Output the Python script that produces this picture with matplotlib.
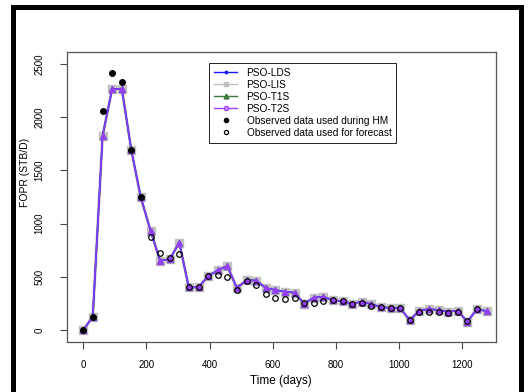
import matplotlib
matplotlib.use("Agg")
import matplotlib.pyplot as plt
from matplotlib.patches import Rectangle
from matplotlib.lines import Line2D

plt.rcParams['font.family'] = ['Liberation Sans', 'DejaVu Sans']

# time of each report step (days)
time_days = [0, 30, 61, 91, 122, 152, 182, 213, 243, 274, 304, 334, 365, 395,
             426, 456, 486, 517, 547, 578, 608, 638, 669, 699, 730, 760, 790,
             821, 851, 882, 912, 942, 973, 1003, 1034, 1064, 1094, 1125, 1155,
             1186, 1216, 1246, 1277]

# simulated FOPR of the best models (the four runs overlap almost exactly)
pso_lds = [0, 125, 1823, 2262, 2268, 1692, 1247, 933, 652, 667, 822, 401, 401,
           507, 560, 602, 396, 467, 465, 395, 376, 360, 350, 248, 304, 313,
           280, 270, 248, 266, 243, 216, 207, 204, 94, 181, 197, 188, 172, 181,
           78, 194, 178]
pso_lis = list(pso_lds)
pso_t1s = list(pso_lds)
pso_t2s = list(pso_lds)

# observed FOPR
obs_hm_time = time_days[:7]
obs_hm = [0, 125, 2061, 2415, 2331, 1692, 1247]
obs_fc_time = time_days[7:42]
obs_fc = [871, 721, 675, 714, 401, 401, 507, 514, 495, 373, 465, 423, 338, 300,
          288, 300, 251, 258, 270, 280, 270, 248, 251, 229, 216, 207, 204, 94,
          172, 172, 169, 157, 172, 87, 200]

W, H = 530, 392
fig = plt.figure(figsize=(W / 100, H / 100), dpi=100)
ax = fig.add_axes([66.7 / W, 1 - 341.7 / H, 429 / W, 289.4 / H])

ax.plot(time_days, pso_lis, color='#c8c8c8', lw=2.2, marker='s', ms=5.5,
        mec='#c0c0c0', zorder=2)
ax.plot(time_days, pso_t1s, color='#3d7a3d', lw=1.3, marker='^', ms=4.5,
        zorder=3)
ax.plot(time_days, pso_lds, color='#1a1aff', lw=1.1, marker='.', ms=3,
        zorder=4)
ax.plot(time_days, pso_t2s, color='#a040ff', lw=1.1, marker='^', ms=3.8,
        alpha=0.85, zorder=5)
ax.plot(obs_hm_time, obs_hm, 'o', color='black', ms=4, zorder=6)
ax.plot(obs_fc_time, obs_fc, 'o', mfc='none', mec='black', mew=0.9, ms=4,
        zorder=6)

ax.set_xlim(-52.6, 1306)
ax.set_ylim(-110, 2610)
ax.set_xticks([0, 200, 400, 600, 800, 1000, 1200])
ax.set_yticks([0, 500, 1000, 1500, 2000, 2500])
ax.tick_params(axis='both', labelsize=7, length=5, color='#444444', width=0.8)
ax.tick_params(axis='x', pad=8)
ax.tick_params(axis='y', pad=11)
for lab in ax.get_yticklabels():
    lab.set_rotation(90)
    lab.set_va('center')
for sp in ax.spines.values():
    sp.set_color('#555555')
    sp.set_linewidth(0.9)

ax.set_xlabel('Time (days)', fontsize=8.5, labelpad=4)
ax.set_ylabel('FOPR (STB/D)', fontsize=7.5)
ax.yaxis.set_label_coords(-0.086, 0.586)

# legend with small markers like the reference
labels = ['PSO-LDS', 'PSO-LIS', 'PSO-T1S', 'PSO-T2S',
          'Observed data used during HM', 'Observed data used for forecast']
handles = [
    Line2D([], [], color='#1a1aff', lw=1.0, marker='.', ms=3.5),
    Line2D([], [], color='#c0c0c0', lw=1.0, marker='s', ms=3),
    Line2D([], [], color='#3d7a3d', lw=1.0, marker='^', ms=3.5),
    Line2D([], [], color='#a040ff', lw=1.0, marker='o', ms=3, mfc='#c8a0ff'),
    Line2D([], [], ls='none', color='black', marker='o', ms=3),
    Line2D([], [], ls='none', marker='o', ms=3, mfc='none', mec='black',
           mew=0.9),
]
leg = ax.legend(handles, labels, loc='upper left',
                bbox_to_anchor=((209 - 66.7) / 429, (341.7 - 62.7) / 289.4),
                borderaxespad=0, fontsize=7.3, fancybox=False, framealpha=1,
                edgecolor='#222222', labelspacing=0.2, handlelength=2.3,
                handletextpad=0.9, borderpad=0.5)
leg.get_frame().set_linewidth(0.7)

# black page frame around the figure
fig.add_artist(Rectangle((12.5 / W, -0.05), (520.5 - 12.5) / W, 1.05 - 7 / H,
                         transform=fig.transFigure, fill=False, lw=3.6,
                         ec='black'))

fig.savefig('out.png', dpi=100)
